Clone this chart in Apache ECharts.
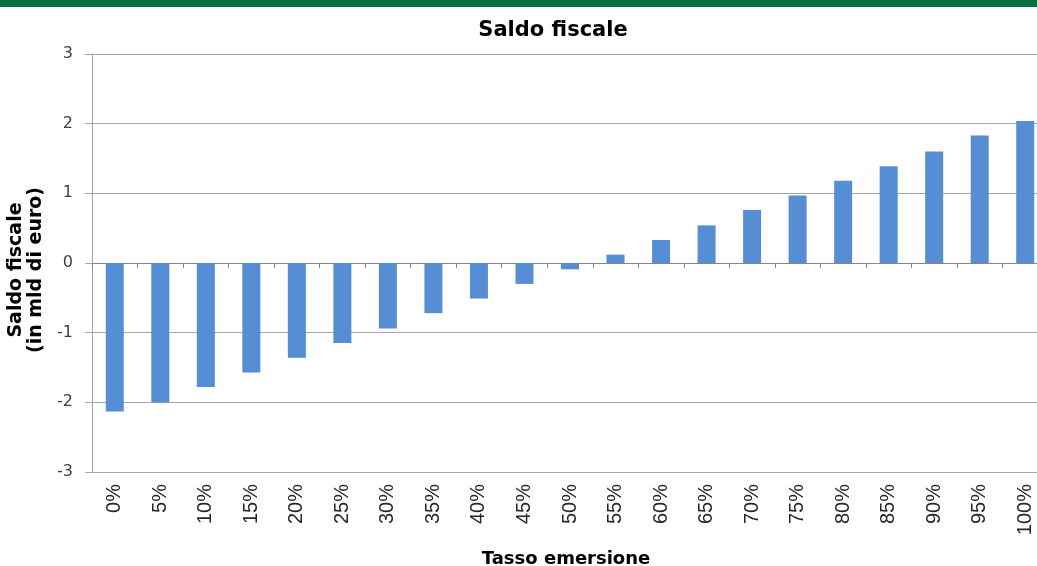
<!DOCTYPE html>
<html>
<head>
<meta charset="utf-8">
<script src="https://cdn.jsdelivr.net/npm/echarts@6/dist/echarts.min.js"></script>
<style>
html,body{margin:0;padding:0;background:#fff;}
#chart{width:1037px;height:566px;}
</style>
</head>
<body>
<div id="chart"></div>
<script>
const categories = ['0%','5%','10%','15%','20%','25%','30%','35%','40%','45%','50%','55%','60%','65%','70%','75%','80%','85%','90%','95%','100%'];
const saldoValues = [-2.13,-2.00,-1.78,-1.57,-1.36,-1.15,-0.94,-0.72,-0.51,-0.30,-0.09,0.12,0.33,0.54,0.76,0.97,1.18,1.39,1.60,1.83,2.04];
const titleText = 'Saldo fiscale';
const yAxisName = 'Saldo fiscale\n(in mld di euro)';
const xAxisName = 'Tasso emersione';

const chart = echarts.init(document.getElementById('chart'), null, {renderer:'canvas'});
chart.setOption({
  animation: false,
  backgroundColor: '#fff',
  graphic: [{
    type: 'rect', left: 0, top: 0, shape: {width: 1037, height: 7},
    style: {fill: '#0B6F45'}
  }],
  title: {
    text: titleText, left: 548, top: 15, textAlign: 'center',
    textStyle: {fontFamily: 'DejaVu Sans', fontWeight: 'bold', fontSize: 21, color: '#000'}
  },
  grid: {left: 92, top: 54, height: 418, width: 956, containLabel: false, outerBoundsMode: 'none'},
  xAxis: [{
    type: 'category', data: categories, position: 'bottom',
    axisLine: {show: false, onZero: false}, axisTick: {show: false},
    axisLabel: {rotate: 90, margin: 12, fontFamily: 'Liberation Sans', fontSize: 20, color: '#262626'},
    name: xAxisName, nameLocation: 'middle', nameGap: 78,
    nameTextStyle: {fontFamily: 'DejaVu Sans', fontWeight: 'bold', fontSize: 18, color: '#000', padding: [0, 8, 0, 0]}
  }, {
    type: 'category', data: categories, position: 'bottom',
    axisLine: {show: true, onZero: true, onZeroAxisIndex: 0, lineStyle: {color: '#868686', width: 1}},
    axisTick: {show: true, length: 5, alignWithLabel: false, lineStyle: {color: '#868686'}},
    axisLabel: {show: false}, splitLine: {show: false}
  }],
  yAxis: {
    type: 'value', min: -3, max: 3, interval: 1,
    axisLine: {show: true, lineStyle: {color: '#A6A6A6'}},
    axisTick: {show: true, length: 7, lineStyle: {color: '#A6A6A6'}},
    axisLabel: {margin: 19, fontFamily: 'DejaVu Sans', fontSize: 16, color: '#404040'},
    splitLine: {show: true, lineStyle: {color: '#A6A6A6', width: 1}},
    name: yAxisName, nameLocation: 'middle', nameRotate: 90, nameGap: 38,
    nameTextStyle: {fontFamily: 'DejaVu Sans', fontWeight: 'bold', fontSize: 19, lineHeight: 20, color: '#000', align: 'center', padding: [0, 14, 0, 0]}
  },
  series: [{
    type: 'bar', data: saldoValues, xAxisIndex: 0, barWidth: 18,
    itemStyle: {color: '#558ED5'}
  }]
});
</script>
</body>
</html>
